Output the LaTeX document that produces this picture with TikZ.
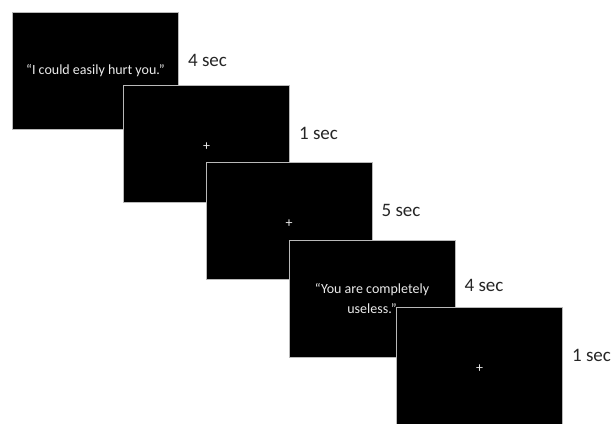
\documentclass[tikz,border=0pt]{standalone}
\usepackage{fontspec}
\setmainfont{Carlito}
\usetikzlibrary{positioning}

\begin{document}
\begin{tikzpicture}[x=1pt, y=-1pt,
    screen/.style={rectangle, fill=black, draw=gray!55, line width=0.8pt, minimum width=166pt, minimum height=117pt, inner sep=0pt, text=white!92!black, align=center, font=\fontsize{14}{20}\selectfont},
    fixcross/.style={inner sep=0pt, text=white!92!black, font=\fontsize{14}{20}\selectfont},
    dur/.style={anchor=west, inner sep=0pt, text=black!85, font=\fontsize{19}{23}\selectfont}
]
\useasboundingbox (0,0) rectangle (612,423);
\clip (0,0) rectangle (612,423);
\fill[white] (0,0) rectangle (612,423);

% trial sequence, one screen after the other
\node[screen] (s1) at (95.5,71) {“I could easily hurt you.”};
\node[dur] (d1) at ([shift={(9,48)}]s1.north east) {4 sec};

\node[screen] (s2) at (206.5,144) {};
\node[fixcross] (f2) at ([yshift=-3pt]s2.center) {+};
\node[dur] (d2) at ([shift={(9,48)}]s2.north east) {1 sec};

\node[screen] (s3) at (289,221) {};
\node[fixcross] (f3) at ([yshift=-3pt]s3.center) {+};
\node[dur] (d3) at ([shift={(9,48)}]s3.north east) {5 sec};

\node[screen] (s4) at (372,298.5) {“You are completely\\useless.”};
\node[dur] (d4) at ([shift={(9,46)}]s4.north east) {4 sec};

\node[screen] (s5) at (479.5,366) {};
\node[fixcross] (f5) at ([yshift=-3pt]s5.center) {+};
\node[dur] (d5) at ([shift={(9,48)}]s5.north east) {1 sec};
\end{tikzpicture}
\end{document}
